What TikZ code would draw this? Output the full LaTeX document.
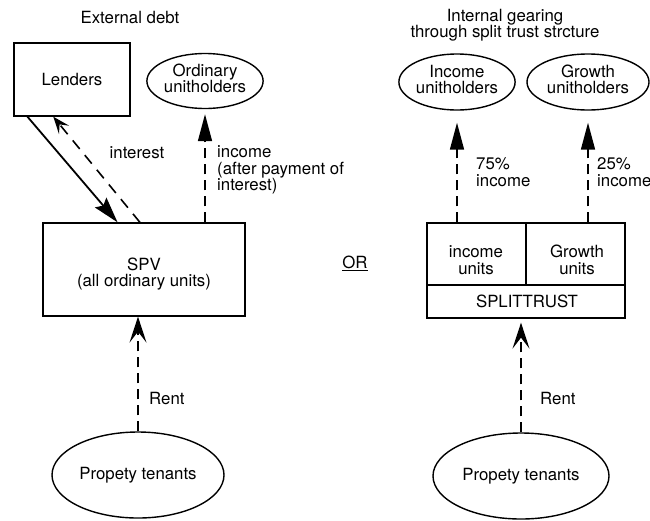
\documentclass[tikz,border=0pt]{standalone}
\usepackage{fontspec}
\setmainfont{TeX Gyre Heros}
\usetikzlibrary{arrows.meta,shapes.geometric,calc}
\tikzset{
  every node/.style={font=\fontsize{16.8}{16.5}\selectfont, inner sep=0pt},
  boxnode/.style={draw, line width=1.3pt, rectangle, minimum width=#1},
  ovalnode/.style={draw, line width=1.4pt, ellipse},
  flowline/.style={line width=1.6pt, dash pattern=on 10pt off 6pt},
  barbtip/.style={-{Stealth[length=26pt, width=17pt, inset=11pt]}},
  smalltip/.style={-{Stealth[length=17pt, width=13pt, inset=7pt]}},
  wedgetip/.style={-{Triangle[length=27pt, width=14pt]}},
  loantip/.style={-{Stealth[length=26pt, width=15pt, inset=4pt]}},
}
\begin{document}
\begin{tikzpicture}[x=1pt,y=-1pt]
\useasboundingbox (0,0) rectangle (650,520);

% ---------- external debt ----------
\node (titleA) at (130,17) {External debt};
\node[boxnode=116pt, minimum height=73pt] (lenders) at (72,79.5) {Lenders};
\node[ovalnode, minimum width=110pt, minimum height=55pt] (ordinary) at (205,81)
  {\begin{tabular}{@{}c@{}}Ordinary\\[-1pt]unitholders\end{tabular}};
\node[boxnode=202pt, minimum height=93pt] (spv) at (144,269.5) {};
\node[align=center] (spvtext) at (144,274) {SPV\\(all ordinary units)};
\node[ovalnode, minimum width=172pt, minimum height=86pt] (tenL) at (138,475)
  {Propety tenants};

% loan and interest between lenders and SPV
\draw[line width=1.8pt, loantip]
  ($(lenders.south west)!0.12!(lenders.south east)$) --
  ($(spv.north west)!0.37!(spv.north east)$);
\draw[flowline, dash pattern=on 11pt off 8pt, smalltip]
  ($(spv.north west)!0.48!(spv.north east)$) --
  ($(lenders.south west)!0.34!(lenders.south east)$);
\node (interest) at (137,153) {interest};

% income to ordinary unitholders
\draw[flowline, wedgetip, shorten >=5pt] (spv.north -| ordinary.south) -- (ordinary.south);
\node[anchor=west, align=left] (incomeA) at (217,170)
  {income\\(after payment of\\interest)};

% rent into the SPV
\draw[flowline, barbtip] (tenL.north) -- (tenL.north |- spv.south);
\node[anchor=west] (rentA) at (149,398) {Rent};

% ---------- separator ----------
\node (or) at (355,263) {\underline{OR}};

% ---------- split trust ----------
\node[align=center] (titleB) at (505,25) {Internal gearing\\through split trust strcture};
\node[ovalnode, minimum width=110pt, minimum height=56pt] (incholders) at (457,82)
  {\begin{tabular}{@{}c@{}}Income\\[-1pt]unitholders\end{tabular}};
\node[ovalnode, minimum width=122pt, minimum height=56pt] (grholders) at (588,82)
  {\begin{tabular}{@{}c@{}}Growth\\[-1pt]unitholders\end{tabular}};

\node[boxnode=99pt, minimum height=62pt] (incu) at (476.5,254) {};
\node[boxnode=99pt, minimum height=62pt] (gru) at (575.5,254) {};
\node[boxnode=198pt, minimum height=33pt] (split) at (526,301.5) {};
\node[align=center] (incutext) at (476,260) {income\\units};
\node[align=center] (grutext) at (577,260) {Growth\\units};
\node (splittext) at (527,301) {SPLITTRUST};

\draw[flowline, wedgetip, shorten >=12pt] (incu.north -| incholders.south) -- (incholders.south);
\draw[flowline, wedgetip, shorten >=12pt] (gru.north -| grholders.south) -- (grholders.south);
\node[anchor=west, align=left] (pct75) at (476,172) {75\%\\income};
\node[anchor=west, align=left] (pct25) at (597,172) {25\%\\income};

\node[ovalnode, minimum width=176pt, minimum height=86pt] (tenR) at (521,476)
  {Propety tenants};
\draw[flowline, barbtip, shorten >=4pt] (tenR.north) -- (tenR.north |- split.south);
\node[anchor=west] (rentB) at (540,398) {Rent};
\end{tikzpicture}
\end{document}
